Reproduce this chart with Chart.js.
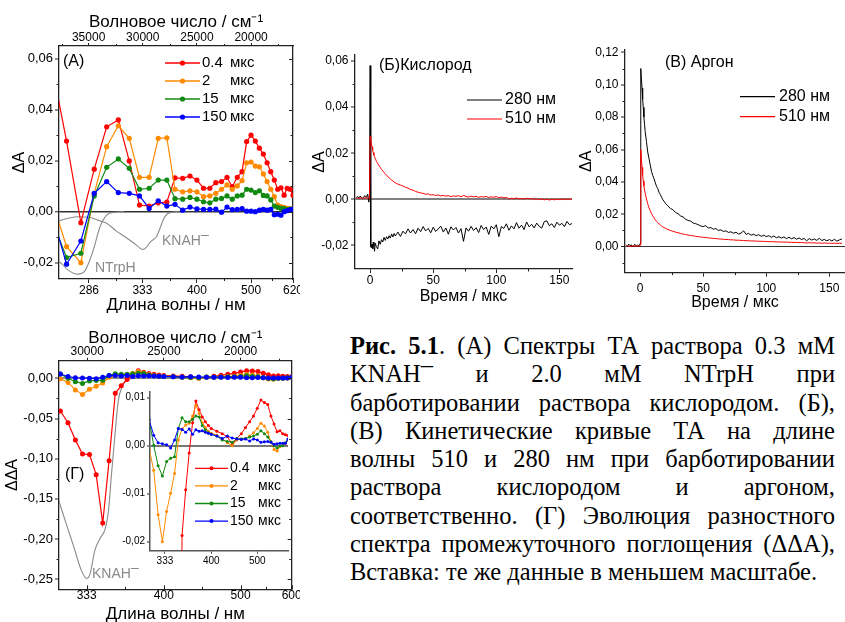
<!DOCTYPE html>
<html lang="ru">
<head>
<meta charset="utf-8">
<title>Рис. 5.1</title>
<script src="https://cdn.jsdelivr.net/npm/chart.js@4.4.1/dist/chart.umd.min.js"></script>
<style>
  html, body { margin: 0; padding: 0; background: #fff; }
  body { position: relative; width: 845px; height: 622px; overflow: hidden; }
  canvas { position: absolute; }
  #caption { position: absolute; left: 350px; top: 332px; width: 485px;
    font-family: "Liberation Serif", "Times New Roman", serif; font-size: 24.5px; line-height: 28.3px; color: #000; }
  #caption .j { text-align: justify; text-align-last: justify; }
  #caption .dash { position: relative; top: -0.4em; }
</style>
</head>
<body>
<canvas id="chartA" width="300" height="320" style="left:0;top:0"></canvas>
<canvas id="chartB" width="275" height="270" style="left:300px;top:40px"></canvas>
<canvas id="chartC" width="275" height="280" style="left:570px;top:40px"></canvas>
<canvas id="chartG" width="300" height="320" style="left:0;top:310px"></canvas>
<canvas id="chartInset" width="195" height="190" style="left:100px;top:385px"></canvas>

<div id="caption">
  <div class="j"><b>Рис. 5.1</b>. (А) Спектры ТА раствора 0.3 мМ</div>
  <div class="j">KNAH<span class="dash">–</span> и 2.0 мМ NTrpH при</div>
  <div class="j">барботировании раствора кислородом. (Б),</div>
  <div class="j">(В) Кинетические кривые ТА на длине</div>
  <div class="j">волны 510 и 280 нм при барботировании</div>
  <div class="j">раствора кислородом и аргоном,</div>
  <div class="j">соответственно. (Г) Эволюция разностного</div>
  <div class="j">спектра промежуточного поглощения (ΔΔА),</div>
  <div>Вставка: те же данные в меньшем масштабе.</div>
</div>

<script>
// ---- panel (А): TA spectra, wavelength in nm ----
const waveA = [260, 270, 280, 290, 300, 310, 320, 330, 340, 350, 360, 370, 380, 390, 400, 410, 420, 430, 440,
  450, 460, 470, 480, 490, 500, 510, 520, 530, 540, 550, 560, 570, 580, 590, 600, 610, 620];
const red04A = [0.0586, 0.0277, -0.0043, 0.0167, 0.0333, 0.0360, 0.0199, 0.0026, 0.0022, 0.0035, 0.0038, 0.0133,
  0.0131, 0.0140, 0.0124, 0.0092, 0.0092, 0.0114, 0.0118, 0.0135, 0.0098, 0.0135, 0.0157, 0.0275, 0.0300, 0.0277,
  0.0249, 0.0226, 0.0192, 0.0157, 0.0124, 0.0088, 0.0094, 0.0065, 0.0092, 0.0088, 0.0065];
const orange2A = [0.0054, -0.0137, -0.0200, 0.0072, 0.0255, 0.0337, 0.0288, 0.0135, 0.0135, 0.0288, 0.0290, 0.0088,
  0.0078, 0.0082, 0.0078, 0.0059, 0.0062, 0.0072, 0.0088, 0.0105, 0.0088, 0.0101, 0.0122, 0.0192, 0.0195, 0.0179,
  0.0176, 0.0148, 0.0118, 0.0088, 0.0059, 0.0026, 0.0020, 0.0017, 0.0013, 0.0012, 0.0010];
const green15A = [-0.0024, -0.0180, -0.0163, 0.0062, 0.0174, 0.0207, 0.0170, 0.0088, 0.0092, 0.0124, 0.0124, 0.0051,
  0.0049, 0.0056, 0.0049, 0.0039, 0.0035, 0.0049, 0.0052, 0.0062, 0.0049, 0.0062, 0.0065, 0.0088, 0.0085, 0.0075,
  0.0082, 0.0064, 0.0062, 0.0046, 0.0022, 0.0017, 0.0013, 0.0012, 0.0008, 0.0010, 0.0010];
const blue150A = [0.0005, -0.0206, -0.0115, 0.0072, 0.0118, 0.0075, 0.0072, 0.0062, 0.0013, 0.0043, 0.0022, 0.0029,
  0.0006, 0.0018, 0.0011, 0.0009, 0.0009, 0.0010, -0.0002, 0.0018, 0.0008, 0.0009, 0.0012, 0.0002, 0.0002, 0.0000,
  0.0006, 0.0009, 0.0006, 0.0009, -0.0012, -0.0010, -0.0014, 0.0000, 0.0004, 0.0008, 0.0010];
// scaled ground-state absorption (grey)
const ntrphWave = [262, 266, 271, 278, 282.5, 285.7, 289.3, 294.6, 300, 307, 315];
const ntrphAbs = [-0.0195, -0.0200, -0.0229, -0.0245, -0.0235, -0.0202, -0.0150, -0.0059, -0.0013, -0.0002, 0];
const knahWaveA = [262, 266, 271, 278, 286, 295, 300, 308, 316, 324, 329, 333, 337, 341, 345, 348, 352, 356, 360, 366, 375];
const knahAbsA = [-0.0040, -0.0034, -0.0026, -0.0020, -0.0022, -0.0037, -0.0045, -0.0075, -0.0098, -0.0122, -0.0138,
  -0.0148, -0.0140, -0.0120, -0.0108, -0.0098, -0.0065, -0.0030, -0.0010, -0.0002, 0];

// ---- panels (Б), (В): kinetics ----
const timeUs = [-11, -10, -9, -8, -7, -6, -5, -4, -3, -2, -1, -0.5, 0, 0.5, 1, 1.5, 2, 2.5, 3, 3.5, 4,
  5, 6, 7, 8, 9, 10, 11, 12, 13, 14, 15, 16, 17, 18, 19, 20,
  22, 24, 26, 28, 30, 32, 34, 36, 38, 40, 42, 44, 46, 48, 50, 52, 54, 56, 58, 60, 62, 64, 66, 68, 70,
  72, 74, 76, 78, 80, 82, 84, 86, 88, 90, 92, 94, 96, 98, 100, 102, 104, 106, 108, 110, 112, 114, 116, 118, 120,
  122, 124, 126, 128, 130, 132, 134, 136, 138, 140, 142, 144, 146, 148, 150, 152, 154, 156, 158, 160];
const o2At280 = [0.0008, 0.0012, 0.0006, 0.0014, 0.0010, 0.0004, 0.0012, 0.0016, 0.0009, 0.0022, -0.0012, 0.0026,
  0.0580,
  -0.0205, -0.0210, -0.0195, -0.0215, -0.0185, -0.0205, -0.0225, -0.0190,
  -0.0205, -0.0215, -0.0180, -0.0195, -0.0175, -0.0185, -0.0165, -0.0178, -0.0162, -0.0172, -0.0158, -0.0168,
  -0.0150, -0.0163, -0.0148, -0.0159,
  -0.0142, -0.0161, -0.0138, -0.0150, -0.0128, -0.0146, -0.0131, -0.0149, -0.0125, -0.0140,
  -0.0118, -0.0137, -0.0126, -0.0145, -0.0121, -0.0139, -0.0128, -0.0116, -0.0142, -0.0124,
  -0.0151, -0.0119, -0.0133, -0.0122, -0.0146, -0.0127, -0.0182, -0.0124, -0.0138, -0.0117,
  -0.0135, -0.0123, -0.0144, -0.0113, -0.0131, -0.0120, -0.0152, -0.0116, -0.0128, -0.0110,
  -0.0162, -0.0118, -0.0126, -0.0106, -0.0134, -0.0115, -0.0128, -0.0101, -0.0125, -0.0112,
  -0.0131, -0.0098, -0.0119, -0.0108, -0.0124, -0.0103, -0.0117, -0.0125, -0.0097, -0.0093,
  -0.0114, -0.0106, -0.0122, -0.0099, -0.0112, -0.0104, -0.0118, -0.0096, -0.0110, -0.0105];
const o2At510 = [0.0004, 0.0008, 0.0003, 0.0006, 0.0009, 0.0002, 0.0007, 0.0005, 0.0010, 0.0003, 0.0006, 0.0004,
  0.0272,
  0.0262, 0.0240, 0.0228, 0.0212, 0.0203, 0.0192, 0.0186, 0.0178,
  0.0165, 0.0156, 0.0146, 0.0139, 0.0130, 0.0124, 0.0116, 0.0111, 0.0105, 0.0098, 0.0094, 0.0089,
  0.0083, 0.0080, 0.0075, 0.0072,
  0.0066, 0.0062, 0.0058, 0.0052, 0.0049, 0.0043, 0.0040, 0.0034, 0.0031, 0.0028,
  0.0026, 0.0022, 0.0024, 0.0019, 0.0020, 0.0017, 0.0019, 0.0015, 0.0017, 0.0014,
  0.0016, 0.0012, 0.0015, 0.0013, 0.0016, 0.0011, 0.0017, 0.0013, 0.0010, 0.0014,
  0.0011, 0.0013, 0.0009, 0.0012, 0.0010, 0.0013, 0.0008, 0.0011, 0.0009, 0.0012,
  0.0007, 0.0010, 0.0006, 0.0009, 0.0002, 0.0005, 0.0003, 0.0006, 0.0002, 0.0004,
  0.0001, 0.0005, 0.0002, 0.0004, 0.0000, 0.0003, -0.0001, 0.0002, -0.0002, 0.0001,
  -0.0003, 0.0000, -0.0002, 0.0001, -0.0001, 0.0002, -0.0001, 0.0001, 0.0000, 0.0002];
const arAt280 = [0.0010, 0.0004, 0.0016, 0.0006, 0.0012, -0.0002, 0.0009, 0.0014, 0.0003, 0.0011, 0.0005, 0.0008,
  0.0020,
  0.1100, 0.1040, 0.0980, 0.0910, 0.0860, 0.0800, 0.0755, 0.0710,
  0.0650, 0.0585, 0.0545, 0.0505, 0.0465, 0.0440, 0.0420, 0.0395, 0.0372, 0.0358, 0.0335, 0.0322,
  0.0305, 0.0290, 0.0280, 0.0268,
  0.0252, 0.0236, 0.0228, 0.0212, 0.0204, 0.0190, 0.0184, 0.0170, 0.0162, 0.0158,
  0.0146, 0.0142, 0.0136, 0.0128, 0.0124, 0.0130, 0.0115, 0.0118, 0.0108, 0.0112,
  0.0100, 0.0104, 0.0094, 0.0098, 0.0088, 0.0092, 0.0083, 0.0089, 0.0078, 0.0084,
  0.0098, 0.0076, 0.0082, 0.0071, 0.0077, 0.0068, 0.0074, 0.0064, 0.0071, 0.0062,
  0.0068, 0.0058, 0.0066, 0.0055, 0.0062, 0.0053, 0.0060, 0.0050, 0.0058, 0.0049,
  0.0056, 0.0046, 0.0054, 0.0044, 0.0051, 0.0036, 0.0050, 0.0041, 0.0048, 0.0039,
  0.0052, 0.0038, 0.0045, 0.0036, 0.0044, 0.0035, 0.0046, 0.0034, 0.0042, 0.0048];
const arAt510 = [0.0003, 0.0006, 0.0002, 0.0005, 0.0001, 0.0004, 0.0006, 0.0002, 0.0005, 0.0003, 0.0004, 0.0002,
  0.0010,
  0.0600, 0.0540, 0.0490, 0.0440, 0.0405, 0.0375, 0.0350, 0.0330,
  0.0295, 0.0265, 0.0240, 0.0222, 0.0205, 0.0190, 0.0178, 0.0166, 0.0157, 0.0148, 0.0141, 0.0134,
  0.0128, 0.0122, 0.0118, 0.0114,
  0.0106, 0.0100, 0.0095, 0.0090, 0.0086, 0.0082, 0.0078, 0.0075, 0.0072, 0.0069,
  0.0067, 0.0064, 0.0062, 0.0060, 0.0058, 0.0057, 0.0054, 0.0053, 0.0051, 0.0050,
  0.0048, 0.0047, 0.0046, 0.0044, 0.0044, 0.0042, 0.0042, 0.0040, 0.0040, 0.0039,
  0.0038, 0.0037, 0.0037, 0.0035, 0.0036, 0.0034, 0.0034, 0.0033, 0.0033, 0.0032,
  0.0031, 0.0032, 0.0030, 0.0030, 0.0029, 0.0029, 0.0028, 0.0029, 0.0027, 0.0027,
  0.0026, 0.0027, 0.0025, 0.0026, 0.0024, 0.0023, 0.0025, 0.0023, 0.0024, 0.0022,
  0.0023, 0.0021, 0.0023, 0.0021, 0.0022, 0.0020, 0.0022, 0.0020, 0.0021, 0.0021];
const probes = ['280 нм', '510 нм'];

// ---- panel (Г): difference spectra ΔΔA ----
const waveG = [315, 320, 325, 330, 335, 340, 345, 350, 355, 360, 365, 370, 375, 380, 385, 390, 395, 400,
  410, 420, 430, 440, 450, 460, 470, 480, 490, 500, 510, 520, 530, 540, 550, 560, 570, 580, 590, 600];
const red04G = [-0.0407, -0.0552, -0.0768, -0.0942, -0.0946, -0.1200, -0.1800, -0.1025, -0.0187, -0.0092, -0.0015,
  0.0048, 0.0093, 0.0075, 0.0060, 0.0050, 0.0042, 0.0036,
  0.0030, 0.0025, 0.0019, 0.0003, 0.0015, 0.0025, 0.0038, 0.0050, 0.0062, 0.0078, 0.0095, 0.0090, 0.0086, 0.0062,
  0.0045, 0.0029, 0.0031, 0.0025, 0.0023, 0.0021];
const orange2G = [-0.0006, -0.0051, -0.0144, -0.0200, -0.0137, -0.0099, -0.0058, 0.0012, 0.0035, 0.0043, 0.0047,
  0.0062, 0.0085, 0.0067, 0.0048, 0.0038, 0.0030, 0.0026,
  0.0022, 0.0014, 0.0006, 0.0000, 0.0012, 0.0014, 0.0015, 0.0020, 0.0027, 0.0036, 0.0047, 0.0041, 0.0028, 0.0008,
  -0.0008, -0.0011, -0.0002, 0.0000, 0.0004, 0.0012];
const green15G = [0.0054, 0.0001, -0.0042, -0.0063, -0.0033, -0.0026, -0.0023, 0.0036, 0.0058, 0.0050, 0.0050,
  0.0055, 0.0062, 0.0060, 0.0042, 0.0033, 0.0027, 0.0024,
  0.0020, 0.0012, 0.0009, 0.0007, 0.0015, 0.0014, 0.0015, 0.0018, 0.0020, 0.0024, 0.0031, 0.0025, 0.0018, 0.0008,
  0.0000, -0.0005, 0.0000, 0.0000, 0.0006, 0.0012];
const blue150G = [0.0054, 0.0022, 0.0006, 0.0004, 0.0002, -0.0005, 0.0012, 0.0036, 0.0034, 0.0028, 0.0035,
  0.0024, 0.0033, 0.0030, 0.0031, 0.0028, 0.0026, 0.0024,
  0.0020, 0.0015, 0.0020, 0.0016, 0.0014, 0.0013, 0.0014, 0.0010, 0.0014, 0.0012, 0.0007, 0.0008, 0.0009, 0.0007,
  0.0003, 0.0004, 0.0005, 0.0005, 0.0005, 0.0014];
const knahWaveG = [310, 314, 319, 324, 329, 333, 335.5, 339, 343, 347, 349.5, 352, 355, 357.5, 360.5, 365, 372, 600];
const knahAbsG = [-0.125, -0.152, -0.182, -0.210, -0.238, -0.249, -0.243, -0.214, -0.199, -0.187, -0.165, -0.118,
  -0.066, -0.028, -0.011, -0.002, 0, 0];

const delays = ['0.4', '2', '15', '150'];
const delayColors = ['#ff0000', '#ff8a00', '#128a12', '#0000ff'];
const GRAY = '#8a8a8a';
const FRAME = '#222';
const FONT = '"Liberation Sans", Arial, Helvetica, sans-serif';

Chart.defaults.font.family = FONT;
Chart.defaults.color = '#000';

const nm = w => 1e7 / w; // nm -> cm-1
const fmt2 = v => (Math.abs(v) < 1e-9 ? 0 : v).toFixed(2).replace('.', ',');
const fixTicks = vals => s => { s.ticks = vals.map(v => ({ value: v })); };

// fixed axis box so the plot area lands where the original one is
function box(w, h) {
  return s => {
    if (w !== null) s.width = w;
    if (h !== null) s.height = h;
    s.paddingLeft = s.paddingRight = s.paddingTop = s.paddingBottom = 0;
  };
}

// only the zero grid line is drawn
function zeroGrid(color, width, tickLength) {
  return {
    drawOnChartArea: true,
    color: c => (c.tick && c.tick.value === 0 ? color : 'rgba(0,0,0,0)'),
    lineWidth: c => (c.tick && c.tick.value === 0 ? width : 0),
    tickColor: FRAME, tickWidth: 1, tickLength: tickLength
  };
}

// minor / inner tick marks
const tickMarks = {
  id: 'tickMarks',
  afterDraw(chart, args, opts) {
    if (!opts.marks) return;
    const { ctx, chartArea: a } = chart;
    ctx.save();
    ctx.strokeStyle = FRAME;
    ctx.lineWidth = 1;
    opts.marks.forEach(m => {
      const sc = chart.scales[m.scale];
      m.values.forEach(v => {
        const p = Math.round(sc.getPixelForValue(v)) + 0.5;
        ctx.beginPath();
        if (m.side === 'left') { ctx.moveTo(a.left, p); ctx.lineTo(a.left - m.len, p); }
        else if (m.side === 'right') { ctx.moveTo(a.right, p); ctx.lineTo(a.right + m.len, p); }
        else if (m.side === 'top') { ctx.moveTo(p, a.top); ctx.lineTo(p, a.top - m.len); }
        else { ctx.moveTo(p, a.bottom); ctx.lineTo(p, a.bottom + m.len); }
        ctx.stroke();
      });
    });
    ctx.restore();
  }
};

// panel labels and legends
const notes = {
  id: 'notes',
  afterDraw(chart, args, opts) {
    const ctx = chart.ctx;
    ctx.save();
    ctx.textBaseline = 'middle';
    ctx.textAlign = 'left';
    (opts.texts || []).forEach(t => {
      ctx.font = t.size + 'px ' + FONT;
      ctx.fillStyle = t.color || '#000';
      ctx.fillText(t.text, t.x, t.y);
      if (t.sup) {
        const w = ctx.measureText(t.text).width;
        ctx.fillText(t.sup, t.x + w, t.y - t.size * 0.45);
      }
    });
    (opts.keys || []).forEach(k => {
      ctx.strokeStyle = k.color;
      ctx.lineWidth = k.width || 1.3;
      ctx.beginPath(); ctx.moveTo(k.x1, k.y); ctx.lineTo(k.x2, k.y); ctx.stroke();
      if (k.dot) {
        ctx.fillStyle = k.color;
        ctx.beginPath(); ctx.arc((k.x1 + k.x2) / 2, k.y, k.dot, 0, Math.PI * 2); ctx.fill();
      }
      ctx.fillStyle = '#000';
      ctx.font = k.size + 'px ' + FONT;
      ctx.fillText(k.label, k.tx, k.y);
      if (k.unit) ctx.fillText(k.unit, k.ux, k.y);
    });
    ctx.restore();
  }
};
Chart.register(tickMarks, notes);

function spectrum(waves, vals, color, r, ord, width) {
  return {
    data: waves.map((w, i) => ({ x: nm(w), y: vals[i] })),
    borderColor: color, backgroundColor: color, borderWidth: width || 1.2,
    pointRadius: r, pointBorderWidth: 0, pointHoverRadius: r, order: ord, xAxisID: 'x', yAxisID: 'y'
  };
}
function absCurve(waves, vals) {
  return {
    data: waves.map((w, i) => ({ x: nm(w), y: vals[i] })),
    borderColor: GRAY, borderWidth: 1.1, pointRadius: 0, cubicInterpolationMode: 'monotone',
    order: 6, xAxisID: 'x', yAxisID: 'y'
  };
}
function trace(vals, color, ord) {
  return {
    data: timeUs.map((t, i) => ({ x: t, y: vals[i] })),
    borderColor: color, borderWidth: 1, pointRadius: 0, order: ord
  };
}
const midTicks = nms => nms.slice(1).map((w, i) => (nm(w) + nm(nms[i])) / 2);
const base = { responsive: false, animation: false, devicePixelRatio: 1 };
const quiet = { legend: { display: false }, tooltip: { enabled: false } };
const frameBorder = { color: FRAME, width: 1.3 };

// ---------- (А) ----------
const nmTicksA = [286, 333, 400, 500, 620];
new Chart(document.getElementById('chartA'), {
  type: 'line',
  data: {
    datasets: [
      spectrum(waveA, red04A, delayColors[0], 2.6, 4),
      spectrum(waveA, orange2A, delayColors[1], 2.6, 3),
      spectrum(waveA, green15A, delayColors[2], 2.6, 2),
      spectrum(waveA, blue150A, delayColors[3], 2.6, 1),
      absCurve(ntrphWave, ntrphAbs),
      absCurve(knahWaveA, knahAbsA)
    ]
  },
  options: Object.assign({}, base, {
    layout: { padding: 0, autoPadding: false },
    plugins: Object.assign({}, quiet, {
      tickMarks: { marks: [
        { scale: 'y', side: 'left', len: 2.5, values: [-0.01, 0.01, 0.03, 0.05] },
        { scale: 'y', side: 'right', len: -4, values: [-0.02, 0, 0.02, 0.04, 0.06] },
        { scale: 'y', side: 'right', len: -2.5, values: [-0.01, 0.01, 0.03, 0.05] },
        { scale: 'x', side: 'top', len: 2, values: [37500, 32500, 27500, 22500, 17500] },
        { scale: 'xb', side: 'bottom', len: 2, values: midTicks(nmTicksA) }
      ] },
      notes: {
        texts: [
          { text: '(А)', x: 63, y: 62, size: 16 },
          { text: 'NTrpH', x: 95, y: 268, size: 14, color: GRAY },
          { text: 'KNAH', x: 162, y: 241, size: 14, color: GRAY, sup: '–' }
        ],
        keys: delays.map((d, i) => ({ x1: 165, x2: 200, y: 63 + 18 * i, color: delayColors[i], dot: 2.6,
          label: d, tx: 202, unit: 'мкс', ux: 230, size: 15 }))
      }
    }),
    scales: {
      x: {
        type: 'linear', position: 'top', reverse: true, min: nm(620), max: 37735,
        afterBuildTicks: fixTicks([35000, 30000, 25000, 20000]), afterFit: box(null, 46),
        ticks: { font: { size: 12 }, padding: -2, maxRotation: 0, autoSkip: false, callback: v => String(v) },
        grid: { drawOnChartArea: false, tickLength: 3, tickColor: FRAME, tickWidth: 1 },
        border: frameBorder,
        title: { display: true, text: 'Волновое число / см⁻¹', font: { size: 17 }, padding: { top: 11.8, bottom: 0 } }
      },
      xb: {
        type: 'linear', position: 'bottom', reverse: true, min: nm(620), max: 37735,
        afterBuildTicks: fixTicks(nmTicksA.map(nm)), afterFit: box(null, 41),
        ticks: { font: { size: 12 }, padding: 0, maxRotation: 0, autoSkip: false, callback: v => String(Math.round(1e7 / v)) },
        grid: { drawOnChartArea: false, tickLength: 4, tickColor: FRAME, tickWidth: 1 },
        border: frameBorder,
        title: { display: true, text: 'Длина волны / нм', font: { size: 17 }, padding: { top: 0, bottom: 4.8 } }
      },
      y: {
        type: 'linear', position: 'left', min: -0.0264, max: 0.0650,
        afterBuildTicks: fixTicks([-0.02, 0, 0.02, 0.04, 0.06]), afterFit: box(59, null),
        ticks: { font: { size: 13 }, padding: 2, autoSkip: false, callback: fmt2 },
        grid: zeroGrid('#333', 1.5, 4),
        border: frameBorder,
        title: { display: true, text: 'ΔA', font: { size: 16 }, padding: { top: 10 } }
      },
      y2: {
        type: 'linear', position: 'right', min: -0.0264, max: 0.0650, afterFit: box(7, null),
        ticks: { display: false }, grid: { display: false }, border: frameBorder
      }
    }
  })
});

// ---------- (Б), (В) ----------
function kineticOptions(p) {
  return Object.assign({}, base, {
    layout: { padding: p.padding, autoPadding: false },
    plugins: Object.assign({}, quiet, {
      tickMarks: { marks: [
        { scale: 'y', side: 'left', len: 2.5, values: p.yMinor },
        { scale: 'x', side: 'bottom', len: 2.5, values: [25, 75, 125] }
      ] },
      notes: {
        texts: [{ text: p.title, x: p.titleX, y: p.titleY, size: 16 }],
        keys: probes.map((s, i) => ({ x1: p.keyX, x2: p.keyX + 35, y: p.keyY + p.keyStep * i,
          color: i === 0 ? '#000' : '#ff0000', width: 1.2, label: s, tx: p.keyX + 38 + (p.keyGap || 0), size: 16 }))
      }
    }),
    scales: {
      x: {
        type: 'linear', min: -12, max: p.xMax,
        afterBuildTicks: fixTicks([0, 50, 100, 150]), afterFit: box(null, p.bottomH),
        ticks: { font: { size: 12 }, padding: p.xPad, maxRotation: 0, autoSkip: false, callback: v => String(v) },
        grid: { drawOnChartArea: false, tickLength: 4, tickColor: FRAME, tickWidth: 1 },
        border: frameBorder,
        title: { display: true, text: 'Время / мкс', font: { size: 16 }, padding: { top: 0, bottom: p.titlePad } }
      },
      y: {
        type: 'linear', min: p.yMin, max: p.yMax,
        afterBuildTicks: fixTicks(p.yTicks), afterFit: box(55, null),
        ticks: { font: { size: 12 }, padding: 2.5, autoSkip: false, callback: fmt2 },
        grid: zeroGrid(p.zeroColor, p.zeroWidth, 4),
        border: frameBorder,
        title: { display: true, text: 'ΔA', font: { size: 16 }, padding: { top: p.yTitlePad } }
      }
    }
  });
}

new Chart(document.getElementById('chartB'), {
  type: 'line',
  data: { datasets: [trace(o2At280, '#000', 2), trace(o2At510, '#ff0000', 1)] },
  options: kineticOptions({
    padding: { top: 15, right: 3, left: 0, bottom: 0 }, xMax: 160, bottomH: 41, xPad: 0, titlePad: 3.7,
    yMin: -0.0302, yMax: 0.0626, yTicks: [-0.02, 0, 0.02, 0.04, 0.06], yMinor: [-0.01, 0.01, 0.03, 0.05],
    zeroColor: '#808080', zeroWidth: 2, yTitlePad: 10.4,
    title: '(Б)Кислород', titleX: 79, titleY: 26, keyX: 167, keyY: 60, keyStep: 19
  })
});

new Chart(document.getElementById('chartC'), {
  type: 'line',
  data: { datasets: [trace(arAt280, '#000', 2), trace(arAt510, '#ff0000', 1)] },
  options: kineticOptions({
    padding: { top: 9.9, right: 0, left: 0, bottom: 0 }, xMax: 162.4, bottomH: 47.4, xPad: 4.5, titlePad: 7.4,
    yMin: -0.016, yMax: 0.1215, yTicks: [0, 0.02, 0.04, 0.06, 0.08, 0.10, 0.12],
    yMinor: [-0.01, 0.01, 0.03, 0.05, 0.07, 0.09, 0.11],
    zeroColor: '#333', zeroWidth: 1, yTitlePad: 7.4,
    title: '(В) Аргон', titleX: 95, titleY: 23, keyX: 170, keyY: 56.7, keyStep: 20, keyGap: 1
  })
});

// ---------- (Г) ----------
const nmTicksG = [333, 400, 500, 600];
new Chart(document.getElementById('chartG'), {
  type: 'line',
  data: {
    datasets: [
      spectrum(waveG, red04G, delayColors[0], 2.5, 4),
      spectrum(waveG, orange2G, delayColors[1], 2.5, 3),
      spectrum(waveG, green15G, delayColors[2], 2.5, 2),
      spectrum(waveG, blue150G, delayColors[3], 2.5, 1),
      absCurve(knahWaveG, knahAbsG)
    ]
  },
  options: Object.assign({}, base, {
    layout: { padding: 0, autoPadding: false },
    plugins: Object.assign({}, quiet, {
      tickMarks: { marks: [
        { scale: 'y', side: 'left', len: 2.5, values: [-0.025, -0.075, -0.125, -0.175, -0.225] },
        { scale: 'y', side: 'right', len: -4, values: [0, -0.05, -0.10, -0.15, -0.20, -0.25] },
        { scale: 'y', side: 'right', len: -2.5, values: [-0.025, -0.075, -0.125, -0.175, -0.225] },
        { scale: 'x', side: 'top', len: 2, values: [27500, 22500, 17500] },
        { scale: 'xb', side: 'bottom', len: -4, values: nmTicksG.map(nm) },
        { scale: 'xb', side: 'bottom', len: -2.5, values: midTicks(nmTicksG) }
      ] },
      notes: {
        texts: [
          { text: '(Г)', x: 65, y: 165, size: 16 },
          { text: 'KNAH', x: 92, y: 264, size: 14, color: GRAY, sup: '–' }
        ]
      }
    }),
    scales: {
      x: {
        type: 'linear', position: 'top', reverse: true, min: nm(600), max: 31836,
        afterBuildTicks: fixTicks([30000, 25000, 20000]), afterFit: box(null, 50.7),
        ticks: { font: { size: 12 }, padding: -1.2, maxRotation: 0, autoSkip: false, callback: v => String(v) },
        grid: { drawOnChartArea: false, tickLength: 3, tickColor: FRAME, tickWidth: 1 },
        border: frameBorder,
        title: { display: true, text: 'Волновое число / см⁻¹', font: { size: 17 }, padding: { top: 18.1, bottom: 0 } }
      },
      xb: {
        type: 'linear', position: 'bottom', reverse: true, min: nm(600), max: 31836,
        afterBuildTicks: fixTicks(nmTicksG.map(nm)), afterFit: box(null, 40.7),
        ticks: { font: { size: 12 }, padding: -1, maxRotation: 0, autoSkip: false, callback: v => String(Math.round(1e7 / v)) },
        grid: { drawOnChartArea: false, drawTicks: false },
        border: frameBorder,
        title: { display: true, text: 'Длина волны / нм', font: { size: 17 }, padding: { top: 0, bottom: 5.8 } }
      },
      y: {
        type: 'linear', position: 'left', min: -0.2624, max: 0.0219,
        afterBuildTicks: fixTicks([-0.25, -0.20, -0.15, -0.10, -0.05, 0]), afterFit: box(59, null),
        ticks: { font: { size: 13 }, padding: 2, autoSkip: false, callback: fmt2 },
        grid: zeroGrid('#8c8c8c', 2, 4),
        border: frameBorder,
        title: { display: true, text: 'ΔΔA', font: { size: 16 }, padding: { top: 3 } }
      },
      y2: {
        type: 'linear', position: 'right', min: -0.2624, max: 0.0219, afterFit: box(8.3, null),
        ticks: { display: false }, grid: { display: false }, border: frameBorder
      }
    }
  })
});

// ---------- inset of (Г) ----------
new Chart(document.getElementById('chartInset'), {
  type: 'line',
  data: {
    datasets: [
      spectrum(waveG, red04G, delayColors[0], 1.5, 4, 1),
      spectrum(waveG, orange2G, delayColors[1], 1.5, 3, 1),
      spectrum(waveG, green15G, delayColors[2], 1.5, 2, 1),
      spectrum(waveG, blue150G, delayColors[3], 1.5, 1, 1)
    ]
  },
  options: Object.assign({}, base, {
    layout: { padding: { top: 6.7, right: 7, left: 0, bottom: 0 }, autoPadding: false },
    plugins: Object.assign({}, quiet, {
      notes: {
        keys: delays.map((d, i) => ({ x1: 95, x2: 128, y: 83.3 + 17.6 * i, color: delayColors[i], dot: 2,
          label: d, tx: 130, unit: 'мкс', ux: 158, size: 14 }))
      }
    }),
    scales: {
      x: {
        type: 'linear', reverse: true, min: nm(600), max: 31650,
        afterBuildTicks: fixTicks([333, 400, 500].map(nm)), afterFit: box(null, 24.3),
        ticks: { font: { size: 10 }, padding: 2, maxRotation: 0, autoSkip: false, callback: v => String(Math.round(1e7 / v)) },
        grid: { drawOnChartArea: false, tickLength: 3, tickColor: '#444', tickWidth: 1 },
        border: { color: '#555', width: 1.5 }
      },
      y: {
        type: 'linear', min: -0.021875, max: 0.01125,
        afterBuildTicks: fixTicks([-0.02, -0.01, 0, 0.01]), afterFit: box(50, null),
        ticks: { font: { size: 10 }, padding: 2, autoSkip: false, callback: fmt2 },
        grid: zeroGrid('#777', 2, 3),
        border: { color: '#555', width: 1.5 }
      }
    }
  })
});
</script>
</body>
</html>
